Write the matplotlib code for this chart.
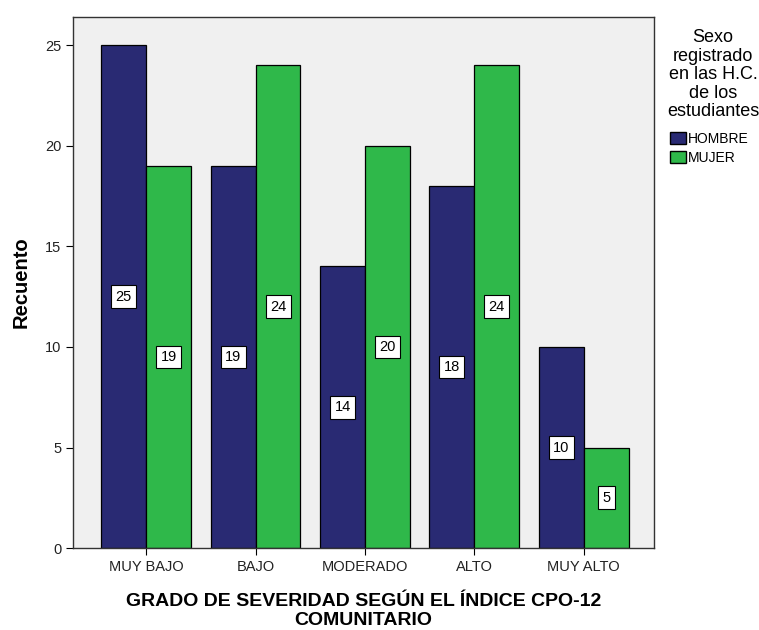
import numpy as np
import matplotlib
matplotlib.use("Agg")
import matplotlib.pyplot as plt
from matplotlib.patches import Patch

plt.rcParams['font.family'] = ['Liberation Sans', 'DejaVu Sans']

# counts per severity grade
categorias = ["MUY BAJO", "BAJO", "MODERADO", "ALTO", "MUY ALTO"]
hombre = [25, 19, 14, 18, 10]
mujer = [19, 24, 20, 24, 5]
series = ["HOMBRE", "MUJER"]
colores = ["#292a73", "#2fb84a"]

fig = plt.figure(figsize=(7.59, 6.3), dpi=100)
ax = fig.add_axes([0.0962, 0.130, 0.765, 0.843])
ax.set_facecolor("#f0f0f0")

x = np.arange(len(categorias))
w = 0.41
for vals, off, col in [(hombre, -w / 2, colores[0]), (mujer, w / 2, colores[1])]:
    ax.bar(x + off, vals, width=w, color=col, edgecolor="black", linewidth=0.9)
    for xi, v in zip(x + off, vals):
        ax.text(xi, v / 2, str(v), ha="center", va="center", fontsize=10.5,
                bbox=dict(boxstyle="square,pad=0.3", facecolor="white",
                          edgecolor="black", linewidth=0.8))

ax.set_xlim(-0.67, 4.64)
ax.set_ylim(0, 26.4)
ax.set_yticks([0, 5, 10, 15, 20, 25])
ax.set_xticks(x)
ax.set_xticklabels(categorias)
ax.tick_params(axis="both", labelsize=10.5, length=5, colors="black",
               labelcolor="#222222")
for s in ax.spines.values():
    s.set_color("#333333")
    s.set_linewidth(1.0)

ax.set_ylabel("Recuento", fontsize=14.5, fontweight="bold", labelpad=10)
ax.set_xlabel("GRADO DE SEVERIDAD SEGÚN EL ÍNDICE CPO-12\nCOMUNITARIO",
              fontsize=14, fontweight="bold", labelpad=14, linespacing=1.1)

# legend title and entries placed separately to the right of the axes
fig.text(713 / 759, 1 - 29 / 630,
         "Sexo\nregistrado\nen las H.C.\nde los\nestudiantes",
         ha="center", va="top", fontsize=13, linespacing=1.12,
         multialignment="center")
handles = [Patch(facecolor=c, edgecolor="black", label=l)
           for c, l in zip(colores, series)]
fig.legend(handles=handles, loc="upper left",
           bbox_to_anchor=(670 / 759, 1 - 132 / 630), frameon=False,
           fontsize=10, handlelength=1.15, handleheight=1.0,
           handletextpad=0.15, labelspacing=0.35, borderpad=0,
           borderaxespad=0)

fig.savefig("out.png", dpi=100)
